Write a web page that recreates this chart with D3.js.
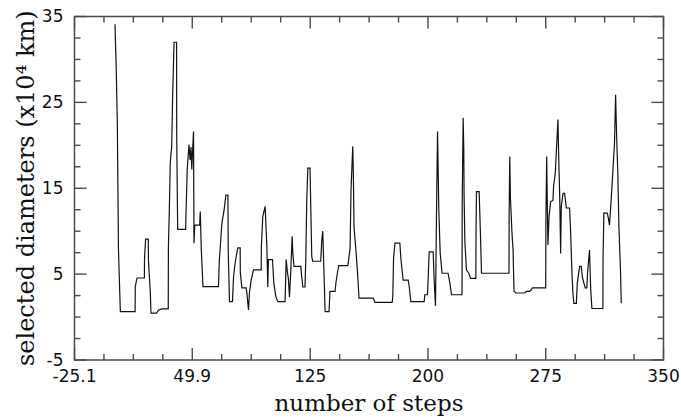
<!DOCTYPE html>
<html lang="en">
<head>
    <meta charset="UTF-8">
    <script src="https://d3js.org/d3.v7.min.js"></script>
    <title>Selected diameters vs number of steps</title>
    <style>
        body { margin: 0; background: #fff; }
        svg { display: block; }
        .tick-label { font-family: "DejaVu Sans", sans-serif; font-size: 17px; fill: #111; }
        .axis-title { font-family: "DejaVu Serif", serif; fill: #111; }
    </style>
</head>
<body>
    <svg id="chart" width="681" height="419"></svg>

    <script>
        // values: step number and selected diameter (x10^4 km)
        const steps = [
            0.7, 1.0, 1.4, 2.2, 2.9, 4.1, 13.5, 13.6, 14.7, 19.4, 19.5, 20.2, 21.9, 22.0, 23.2, 23.6,
            27.2, 28.3, 30.4, 34.6, 34.7, 35.3, 35.9, 36.8, 37.4, 38.3, 39.9, 40.0, 40.6, 45.7, 45.8,
            46.7, 47.8, 48.5, 49.1, 49.6, 50.1, 50.7, 51.0, 51.5, 54.6, 55.0, 55.6, 56.7, 66.6, 67.1,
            68.8, 70.2, 71.3, 72.6, 72.8, 73.6, 75.5, 76.2, 77.2, 78.3, 78.9, 80.4, 80.5, 81.5, 84.2,
            84.7, 85.7, 86.3, 87.4, 88.9, 93.8, 93.9, 94.8, 96.3, 97.4, 98.0, 98.4, 101.0, 101.8,
            103.1, 104.4, 109.0, 109.7, 110.5, 111.1, 111.8, 112.6, 113.5, 113.9, 114.7, 119.0, 119.6,
            120.3, 121.7, 122.2, 122.8, 123.5, 124.9, 125.4, 126.0, 126.6, 131.7, 132.4, 133.0, 133.8,
            134.5, 137.0, 137.6, 140.8, 141.4, 142.3, 143.2, 148.9, 149.3, 150.4, 151.0, 152.1, 152.5,
            152.9, 154.2, 155.2, 156.1, 165.2, 166.2, 177.2, 177.6, 178.1, 179.0, 182.1, 182.8, 184.2,
            187.4, 188.1, 189.1, 197.6, 198.0, 199.7, 200.8, 203.3, 203.9, 204.8, 205.4, 206.1, 206.9,
            207.8, 209.0, 212.8, 213.9, 215.0, 221.7, 221.8, 222.4, 222.8, 223.0, 223.5, 224.5, 226.0,
            227.1, 230.5, 230.6, 230.9, 232.6, 233.4, 234.1, 251.6, 251.7, 252.1, 252.5, 253.5, 254.2,
            254.8, 255.9, 261.6, 262.7, 264.8, 265.9, 266.5, 275.0, 275.1, 275.6, 276.0, 276.4, 277.1,
            278.1, 279.6, 280.0, 281.1, 281.7, 282.8, 283.2, 283.9, 284.5, 284.9, 286.0, 287.0, 287.7,
            288.1, 290.2, 290.8, 291.7, 292.3, 292.9, 294.5, 295.1, 296.6, 297.6, 298.3, 299.3, 300.2,
            301.2, 301.6, 302.9, 303.6, 304.4, 311.4, 311.5, 312.0, 314.2, 315.0, 315.6, 316.7, 317.7,
            318.8, 319.5, 320.1, 320.9, 321.6, 322.6, 323.1
        ];
        const diameters = [
            34.1, 31.9, 29.6, 22.2, 7.8, 0.63, 0.63, 3.55, 4.55, 4.55, 6.85, 9.07, 9.07, 6.6, 2.77, 0.45,
            0.45, 0.8, 0.95, 0.95, 8.2, 12.5, 18.0, 19.9, 25.7, 32.0, 32.0, 21.0, 10.2, 10.2, 11.4,
            17.2, 20.1, 18.3, 19.8, 17.2, 19.3, 21.6, 8.6, 10.7, 10.7, 12.3, 8.1, 3.55, 3.55, 6.5,
            11.0, 12.5, 14.2, 14.2, 7.8, 1.8, 1.8, 4.7, 6.3, 7.5, 8.05, 8.05, 5.2, 3.4, 3.4,
            2.8, 0.83, 2.8, 4.3, 5.5, 5.5, 8.2, 11.7, 12.9, 8.2, 3.5, 6.7, 6.7, 4.0,
            2.4, 1.8, 1.8, 6.7, 5.2, 4.5, 2.3, 5.2, 9.4, 7.5, 5.9, 5.9, 4.7,
            3.5, 3.5, 6.7, 13.5, 17.35, 17.35, 12.5, 7.05, 6.5, 6.5, 9.0, 10.0, 5.1,
            0.63, 0.63, 3.0, 3.0, 4.0, 5.1, 6.0, 6.0, 6.4, 8.0, 14.8, 19.9, 16.6,
            10.5, 7.6, 5.0, 2.2, 2.2, 1.7, 1.7, 2.4, 6.85, 8.6, 8.6, 6.7, 4.3,
            4.3, 3.5, 1.8, 1.8, 2.6, 2.6, 7.6, 7.6, 4.5, 1.3, 11.5, 21.6, 12.5,
            7.4, 5.1, 5.1, 4.0, 2.6, 2.6, 12.9, 23.2, 19.6, 14.3, 8.8, 5.5, 5.1,
            4.5, 4.5, 9.6, 14.6, 14.6, 9.8, 5.1, 5.1, 11.9, 18.7, 14.0, 9.8, 7.8,
            3.0, 2.8, 2.8, 3.0, 3.0, 3.2, 3.4, 3.4, 10.9, 18.7, 13.3, 8.4, 11.7,
            13.4, 13.6, 15.2, 16.8, 19.1, 23.0, 19.1, 14.05, 7.4, 12.9, 14.4, 14.4, 13.4,
            12.7, 12.7, 10.2, 5.1, 2.8, 1.6, 1.6, 3.95, 5.9, 5.9, 4.7, 3.95, 3.4,
            3.4, 5.1, 7.8, 3.4, 1.0, 1.0, 6.7, 12.1, 12.1, 11.4, 10.7, 13.7, 16.8,
            20.3, 25.9, 21.4, 16.8, 10.5, 5.5, 1.6
        ];

        const xTicks = [-25.1, 49.9, 125, 200, 275, 350];
        const yTicks = [-5, 5, 15, 25, 35];

        const width = 681, height = 419;
        const margin = { top: 16.5, right: 17.5, bottom: 59, left: 74.5 };
        const innerW = width - margin.left - margin.right;
        const innerH = height - margin.top - margin.bottom;

        const svg = d3.select("#chart");
        const g = svg.append("g").attr("transform", `translate(${margin.left},${margin.top})`);

        const x = d3.scaleLinear().domain([-25.1, 350]).range([0, innerW]);
        const y = d3.scaleLinear().domain([-5, 35]).range([innerH, 0]);

        // minor ticks: 3 between each pair of major ticks
        const xMinor = [];
        for (let i = 0; i < xTicks.length - 1; i++) {
            const a = xTicks[i], b = xTicks[i + 1];
            for (let k = 1; k < 4; k++) xMinor.push(a + (b - a) * k / 4);
        }
        const yMinor = [];
        for (let i = 0; i < yTicks.length - 1; i++) {
            const a = yTicks[i], b = yTicks[i + 1];
            for (let k = 1; k < 4; k++) yMinor.push(a + (b - a) * k / 4);
        }

        const frameColor = "#4a4a4a";
        const majorLen = 12, minorLen = 6;

        // data line
        const pts = steps.map((s, i) => [s, diameters[i]]);
        g.append("path")
            .datum(pts)
            .attr("fill", "none")
            .attr("stroke", "#111")
            .attr("stroke-width", 1.2)
            .attr("d", d3.line().x(d => x(d[0])).y(d => y(d[1])));

        // ticks on all four sides, pointing inward
        const tickG = g.append("g").attr("stroke", frameColor).attr("stroke-width", 1.4);
        const addX = (vals, len) => {
            vals.forEach(v => {
                tickG.append("line").attr("x1", x(v)).attr("x2", x(v)).attr("y1", innerH).attr("y2", innerH - len);
                tickG.append("line").attr("x1", x(v)).attr("x2", x(v)).attr("y1", 0).attr("y2", len);
            });
        };
        const addY = (vals, len) => {
            vals.forEach(v => {
                tickG.append("line").attr("x1", 0).attr("x2", len).attr("y1", y(v)).attr("y2", y(v));
                tickG.append("line").attr("x1", innerW).attr("x2", innerW - len).attr("y1", y(v)).attr("y2", y(v));
            });
        };
        addX(xTicks, majorLen);
        addX(xMinor, minorLen);
        addY(yTicks, majorLen);
        addY(yMinor, minorLen);

        // frame
        g.append("rect")
            .attr("width", innerW)
            .attr("height", innerH)
            .attr("fill", "none")
            .attr("stroke", frameColor)
            .attr("stroke-width", 1.5);

        // tick labels
        g.selectAll(".xl").data(xTicks).join("text")
            .attr("class", "tick-label")
            .attr("x", d => x(d))
            .attr("y", innerH + 22)
            .attr("text-anchor", "middle")
            .text(d => d);

        g.selectAll(".yl").data(yTicks).join("text")
            .attr("class", "tick-label")
            .attr("x", -11)
            .attr("y", d => y(d))
            .attr("dy", "0.33em")
            .attr("text-anchor", "end")
            .text(d => d);

        // axis titles
        svg.append("text")
            .attr("class", "axis-title")
            .style("font-size", "23px")
            .attr("x", margin.left + innerW / 2)
            .attr("y", 411)
            .attr("text-anchor", "middle")
            .text("number of steps");

        svg.append("text")
            .attr("class", "axis-title")
            .style("font-size", "24px")
            .attr("transform", `translate(34,${margin.top + innerH / 2}) rotate(-90)`)
            .attr("text-anchor", "middle")
            .text("selected diameters (x10\u2074 km)");
    </script>
</body>
</html>
